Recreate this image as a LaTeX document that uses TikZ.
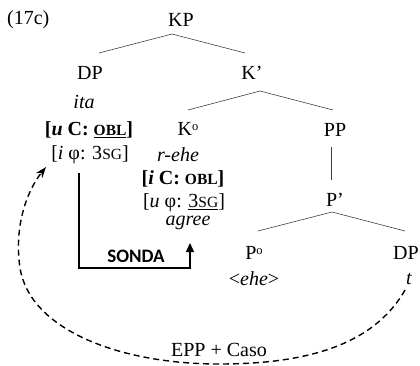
\documentclass[tikz,border=0pt]{standalone}
\usepackage{fontspec}
\setmainfont{Liberation Serif}
\newfontfamily\sondafont{Carlito}
\usetikzlibrary{arrows.meta,calc}
\newcommand{\smc}[1]{{\fontsize{15.5}{15.5}\selectfont #1}}
\newcommand{\degsup}{\raisebox{0.6ex}{\fontsize{12.5}{12.5}\selectfont o}}
\newcommand{\thickul}[1]{\setbox0\hbox{#1}\leavevmode\rlap{\raisebox{-2.6pt}{\rule{\wd0}{1.6pt}}}\box0}
\begin{document}
\begin{tikzpicture}[x=1pt,y=-1pt,
  lbl/.style={inner sep=0pt, font=\fontsize{20}{22}\selectfont},
  tree/.style={draw=black!75, line width=0.6pt},
  probe/.style={draw=black, line width=1.4pt, -{Triangle[length=9pt,width=8pt]}},
  move/.style={draw=black, line width=1.4pt, dash pattern=on 6pt off 4pt, -{Stealth[length=11pt,width=8pt]}}]
\useasboundingbox (0,0) rectangle (420,365);
\node[lbl, anchor=west] (num) at (7,20) {(17c)};
\node[lbl] (KP) at (181,20) {KP};
\node[lbl] (DP) at (90,73) {DP};
\node[lbl] (Kbar) at (252,73) {K’};
\node[lbl] (ita) at (84,102) {\textit{ita}};
\node[lbl] (uC) at (89,130) {\textbf{[\textit{u} C: \thickul{\smc{OBL}} ]}};
\node[lbl] (iphi) at (90,155) {[\textit{i} φ: 3\smc{SG}]};
\node[lbl] (Ko) at (188,129) {K\degsup};
\node[lbl] (rehe) at (178,155) {\textit{r-ehe}};
\node[lbl] (iC) at (183,179) {\textbf{[\textit{i} C: \smc{OBL}]}};
\node[lbl] (uphi) at (184,203) {[\textit{u} φ: \underline{3\smc{SG}}]};
\node[lbl] (agree) at (188,223) {\textit{agree}};
\node[lbl] (PP) at (335,130) {PP};
\node[lbl] (Pbar) at (335,200) {P’};
\node[lbl] (Po) at (254,253) {P\degsup};
\node[lbl] (ehe) at (254,279) {<\textit{ehe}>};
\node[lbl] (DP2) at (406,253) {DP};
\node[lbl] (t) at (409,279) {\textit{t}};
\node[lbl] (caso) at (219,350) {EPP + Caso};
\node[inner sep=0pt, font=\sondafont\bfseries\fontsize{19}{20}\selectfont] (sonda) at (136,256) {SONDA};
% tree lines
\coordinate (aKP) at (172,34);
\coordinate (aKbar) at (260,91);
\coordinate (aPbar) at (332,212);
\coordinate (pp1) at (331,147);
\coordinate (pp2) at (331,180);
\draw[tree] (99,53) -- (aKP) -- (245,53);
\draw[tree] (188,110) -- (aKbar) -- (333,110);
\draw[tree] (pp1) -- (pp2);
\draw[tree] (258,231) -- (aPbar) -- (405,231);
% probe
\coordinate (pr1) at (79,173);
\coordinate (pr2) at (79,268);
\coordinate (pr3) at (190,268);
\coordinate (pr4) at (190,243);
\draw[probe] (pr1) -- (pr2) -- (pr3) -- (pr4);
% movement
\coordinate (m0) at (405,290);
\coordinate (m1) at (219,364);
\coordinate (m2) at (20,268);
\coordinate (m3) at (46,167);
\draw[move] (m0) .. controls (372,348) and (300,364) .. (m1)
  .. controls (120,364) and (30,330) .. (m2)
  .. controls (14,228) and (26,192) .. (m3);
\end{tikzpicture}
\end{document}
